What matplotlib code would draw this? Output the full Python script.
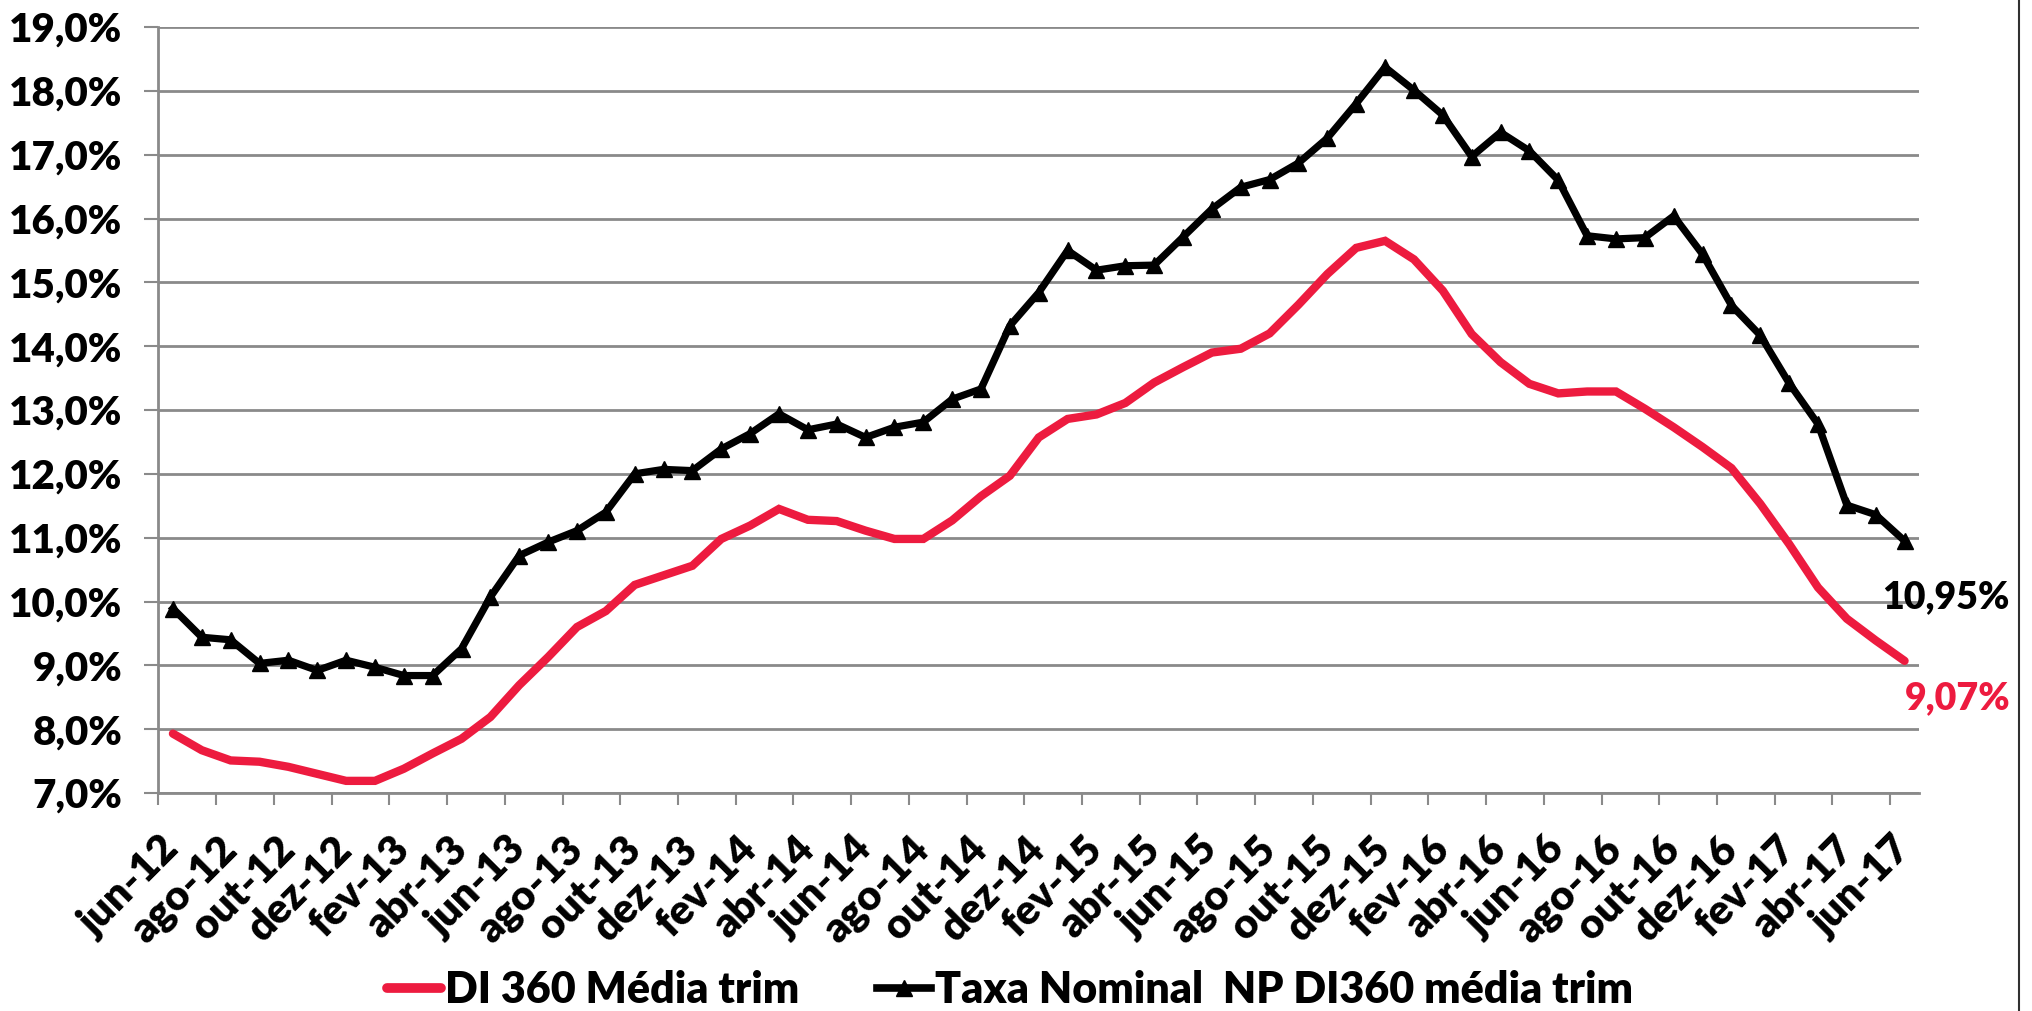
import matplotlib
matplotlib.use("Agg")
import matplotlib.pyplot as plt
from matplotlib.lines import Line2D

# ---- data ----
month_names = ['jan', 'fev', 'mar', 'abr', 'mai', 'jun', 'jul', 'ago', 'set', 'out', 'nov', 'dez']
start_year, start_month = 2012, 6
n_months = 61
categories = []
for k in range(n_months):
    m = (start_month - 1 + k) % 12
    y = start_year + (start_month - 1 + k) // 12
    categories.append(f"{month_names[m]}-{y % 100:02d}")

di360_media_trim = [7.93, 7.67, 7.51, 7.49, 7.41, 7.30, 7.19, 7.19, 7.38, 7.62,
                    7.85, 8.19, 8.69, 9.13, 9.60, 9.85, 10.26, 10.41, 10.56, 10.98,
                    11.19, 11.45, 11.28, 11.26, 11.11, 10.98, 10.98, 11.27, 11.65, 11.97,
                    12.57, 12.86, 12.93, 13.11, 13.43, 13.67, 13.90, 13.96, 14.20, 14.65,
                    15.13, 15.54, 15.65, 15.36, 14.87, 14.19, 13.75, 13.41, 13.26, 13.29,
                    13.29, 13.02, 12.73, 12.42, 12.09, 11.53, 10.90, 10.22, 9.73, 9.39,
                    9.07]

taxa_nominal_np = [9.89, 9.44, 9.40, 9.03, 9.08, 8.92, 9.08, 8.97, 8.84, 8.84,
                   9.26, 10.07, 10.72, 10.93, 11.11, 11.40, 12.00, 12.07, 12.05, 12.39,
                   12.63, 12.94, 12.69, 12.78, 12.57, 12.73, 12.81, 13.17, 13.33, 14.32,
                   14.84, 15.50, 15.19, 15.26, 15.27, 15.71, 16.15, 16.49, 16.61, 16.87,
                   17.26, 17.80, 18.37, 18.01, 17.62, 16.97, 17.35, 17.06, 16.60, 15.73,
                   15.68, 15.70, 16.04, 15.44, 14.64, 14.17, 13.42, 12.78, 11.51, 11.36,
                   10.95]

series_names = ['DI 360 Média trim', 'Taxa Nominal  NP DI360 média trim']
end_labels = ['9,07%', '10,95%']
y_ticks = list(range(7, 20))

# ---- style ----
FONT = ['Lato', 'DejaVu Sans']
plt.rcParams['font.family'] = FONT
WEIGHT = 'heavy'
RED = '#ED1B3F'
GRID = '#8A8A8A'
W, H = 2033, 1011

fig = plt.figure(figsize=(W / 100, H / 100), dpi=100)
ax = fig.add_axes([158.5 / W, 1 - 793 / H, (1919 - 158.5) / W, (793 - 27) / H])

x = list(range(n_months))
ax.plot(x, di360_media_trim, color=RED, lw=6.0, solid_joinstyle='miter',
        solid_capstyle='round', zorder=3)
ax.plot(x, taxa_nominal_np, color='black', lw=5.2, marker='^', markersize=11,
        solid_joinstyle='miter', zorder=4)

ax.set_xlim(-0.5, n_months - 0.5)
ax.set_ylim(7, 19)
ax.set_yticks(y_ticks)
ax.set_yticklabels([f"{v},0%" for v in y_ticks], fontsize=29, fontweight=WEIGHT)
ax.yaxis.grid(True, color=GRID, lw=2)
ax.set_axisbelow(True)

# x ticks: labels every 2 months at category centers, tick marks at boundaries
label_pos = x[::2]
ax.set_xticks(label_pos)
ax.set_xticklabels([categories[i] for i in label_pos], rotation=45, ha='right', va='center',
                   rotation_mode='anchor', fontsize=30, fontweight=WEIGHT)
ax.tick_params(axis='x', which='major', length=0, pad=36)
ax.set_xticks([i - 0.5 for i in range(0, n_months + 1, 2)], minor=True)
ax.tick_params(axis='x', which='minor', length=8.6, width=1.5, color=GRID, direction='out')
ax.tick_params(axis='y', length=10, width=1.5, color=GRID, pad=16)

for side in ['top', 'right']:
    ax.spines[side].set_visible(False)
for side in ['left', 'bottom']:
    ax.spines[side].set_color(GRID)
    ax.spines[side].set_linewidth(2)

# end-of-series labels (figure pixels measured from the bottom)
ax.annotate(end_labels[1], xy=(x[-1], taxa_nominal_np[-1]), xytext=(2010, H - 597),
            textcoords='figure pixels', ha='right', va='center', fontsize=27,
            fontweight=WEIGHT, color='black', annotation_clip=False)
ax.annotate(end_labels[0], xy=(x[-1], di360_media_trim[-1]), xytext=(2010, H - 698),
            textcoords='figure pixels', ha='right', va='center', fontsize=27,
            fontweight=WEIGHT, color=RED, annotation_clip=False)

# legend
handles = [Line2D([], [], color=RED, lw=7, solid_capstyle='round'),
           Line2D([], [], color='black', lw=5.5, marker='^', markersize=11)]
fig.legend(handles, series_names, loc='center', bbox_to_anchor=(1010 / W, (H - 990) / H),
           ncol=2, frameon=False, prop={'size': 31, 'weight': WEIGHT},
           handlelength=1.25, handletextpad=0.1, columnspacing=1.8, borderpad=0)

# outer frame line at right edge
fig.add_artist(Line2D([2019 / W, 2019 / W], [0, 1], color='#303030', lw=1.5))

fig.savefig('out.png', dpi=100)
